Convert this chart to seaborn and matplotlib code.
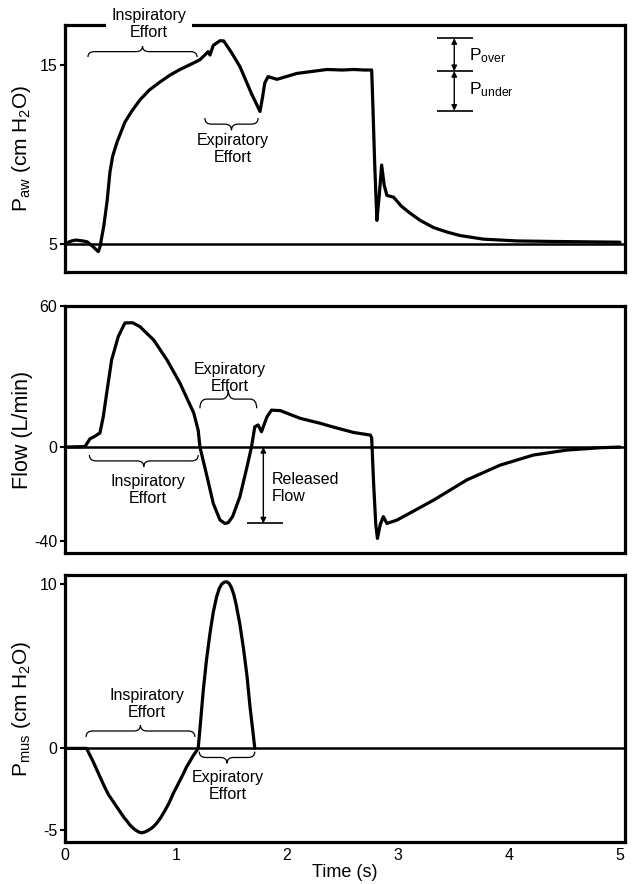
import matplotlib
matplotlib.use("Agg")
import matplotlib.pyplot as plt
import seaborn as sns
from matplotlib.path import Path
from matplotlib.patches import PathPatch

# ---- data ----
t_paw = [0.00, 0.06, 0.10, 0.16, 0.20, 0.25, 0.30, 0.315, 0.35, 0.38, 0.405, 0.43, 0.47,
         0.54, 0.60, 0.676, 0.76, 0.856, 0.95, 1.036, 1.12, 1.17, 1.216, 1.26, 1.29, 1.306,
         1.336, 1.396, 1.43, 1.50, 1.577, 1.68, 1.757, 1.78, 1.80, 1.83, 1.91, 2.09, 2.36,
         2.50, 2.60, 2.70, 2.763, 2.775, 2.79, 2.81, 2.83, 2.853, 2.875, 2.90, 2.96, 3.03,
         3.11, 3.20, 3.32, 3.44, 3.56, 3.77, 4.07, 4.40, 4.70, 5.00]
paw = [5.0, 5.15, 5.2, 5.15, 5.1, 4.85, 4.55, 4.8, 6.0, 7.4, 9.0, 9.9, 10.7,
       11.8, 12.4, 13.05, 13.6, 14.05, 14.45, 14.75, 15.0, 15.15, 15.3, 15.56, 15.75, 15.56,
       16.1, 16.36, 16.35, 15.7, 14.9, 13.4, 12.4, 13.2, 14.0, 14.35, 14.2, 14.53, 14.75,
       14.72, 14.75, 14.72, 14.72, 12.5, 9.5, 6.3, 7.6, 9.4, 8.3, 7.7, 7.6, 7.1,
       6.7, 6.3, 5.9, 5.65, 5.45, 5.25, 5.15, 5.12, 5.1, 5.08]

t_flow = [0.00, 0.18, 0.225, 0.27, 0.315, 0.345, 0.38, 0.42, 0.48, 0.54, 0.61, 0.676, 0.80,
          0.92, 1.036, 1.16, 1.20, 1.216, 1.28, 1.336, 1.396, 1.44, 1.47, 1.51, 1.576, 1.64,
          1.68, 1.71, 1.74, 1.77, 1.82, 1.86, 1.94, 2.12, 2.30, 2.41, 2.60, 2.75, 2.763,
          2.78, 2.80, 2.815, 2.84, 2.868, 2.90, 2.99, 3.15, 3.32, 3.62, 3.92, 4.22, 4.52,
          4.82, 5.00]
flow = [0.0, 0.2, 3.5, 4.6, 6.0, 12.9, 24.3, 37.0, 47.0, 52.8, 52.9, 51.2, 45.5,
        37.0, 27.2, 14.5, 7.2, 0.0, -12.6, -24.0, -31.0, -32.5, -32.2, -29.6, -21.1, -8.4,
        0.0, 8.6, 9.4, 6.5, 12.9, 15.7, 15.5, 12.2, 10.1, 8.6, 6.2, 5.1, 4.0,
        -15.0, -33.0, -38.9, -33.0, -29.6, -32.5, -31.1, -27.0, -22.6, -14.0, -7.7, -3.4, -1.3,
        -0.3, 0.0]

t_pmus = [0.00, 0.195, 0.22, 0.25, 0.28, 0.315, 0.35, 0.39, 0.43, 0.466, 0.50, 0.53, 0.56,
          0.586, 0.615, 0.64, 0.665, 0.69, 0.72, 0.75, 0.79, 0.826, 0.865, 0.90, 0.94, 0.976,
          1.01, 1.04, 1.07, 1.096, 1.125, 1.15, 1.175, 1.20, 1.22, 1.246, 1.275, 1.306, 1.336,
          1.366, 1.39, 1.41, 1.435, 1.457, 1.48, 1.50, 1.52, 1.54, 1.575, 1.61, 1.64, 1.667,
          1.69, 1.71]
pmus = [0.0, 0.0, -0.35, -0.75, -1.2, -1.73, -2.25, -2.8, -3.2, -3.56, -3.9, -4.2, -4.45,
        -4.68, -4.87, -5.0, -5.1, -5.15, -5.1, -5.0, -4.82, -4.57, -4.2, -3.8, -3.3, -2.74,
        -2.3, -1.9, -1.5, -1.12, -0.8, -0.5, -0.25, 0.0, 1.5, 3.55, 5.4, 7.0, 8.3,
        9.24, 9.75, 10.0, 10.14, 10.16, 10.05, 9.8, 9.4, 8.84, 7.6, 6.0, 4.4, 2.54,
        1.2, 0.0]

x_ticks = [0, 1, 2, 3, 4, 5]
paw_ticks = [5, 15]
flow_ticks = [-40, 0, 60]
pmus_ticks = [-5, 0, 10]
p_levels = [16.5, 14.66, 12.44]   # peak / plateau / trough markers

sns.set_theme(style="ticks")
plt.rcParams['font.family'] = ['Liberation Sans', 'DejaVu Sans']
plt.rcParams['mathtext.fontset'] = 'custom'
plt.rcParams['mathtext.rm'] = 'Liberation Sans'
plt.rcParams['mathtext.it'] = 'Liberation Sans:italic'
plt.rcParams['axes.unicode_minus'] = False
plt.rcParams['text.color'] = 'black'
plt.rcParams['axes.labelcolor'] = 'black'

ann_fs = 11.5


def brace(ax, x0, x1, y, h, r=0.06):
    # curly brace, ends at y, tip at y + h
    xm = (x0 + x1) / 2
    yh = y + h / 2
    verts = [(x0, y), (x0, yh), (x0 + r, yh), (xm - r, yh), (xm, yh), (xm, y + h),
             (xm, yh), (xm + r, yh), (x1 - r, yh), (x1, yh), (x1, y)]
    codes = [Path.MOVETO, Path.CURVE3, Path.CURVE3, Path.LINETO, Path.CURVE3, Path.CURVE3,
             Path.CURVE3, Path.CURVE3, Path.LINETO, Path.CURVE3, Path.CURVE3]
    ax.add_patch(PathPatch(Path(verts, codes), fill=False, lw=0.9, edgecolor='black'))


def dbl_arrow(ax, x, y0, y1):
    ax.annotate('', xy=(x, y0), xytext=(x, y1),
                arrowprops=dict(arrowstyle='<|-|>', lw=1.0, color='black',
                                shrinkA=0, shrinkB=0, mutation_scale=8))


fig = plt.figure(figsize=(6.32, 8.84), dpi=100)
left, width = 0.1028, 0.8861
ax1 = fig.add_axes([left, 0.6923, width, 0.2794])
ax2 = fig.add_axes([left, 0.3744, width, 0.2794])
ax3 = fig.add_axes([left, 0.0475, width, 0.3020])

for ax in (ax1, ax2, ax3):
    for sp in ax.spines.values():
        sp.set_visible(True)
        sp.set_linewidth(2.3)
        sp.set_color('black')
    ax.set_xlim(0, 5.045)
    ax.set_xticks(x_ticks)
    ax.tick_params(axis='y', length=3.5, width=1.5, pad=2, labelsize=11.5, colors='black')
    ax.tick_params(axis='x', length=0, pad=4, labelsize=11.5, colors='black')
    ax.yaxis.set_label_coords(-0.057, 0.5)

line_kw = dict(color='black', linewidth=2.3, estimator=None, sort=False,
               solid_joinstyle='round', solid_capstyle='round')

# ---- P_aw ----
ax1.axhline(5, color='black', lw=1.8, zorder=1)
sns.lineplot(x=t_paw, y=paw, ax=ax1, **line_kw)
ax1.set_ylim(3.41, 17.24)
ax1.set_yticks(paw_ticks)
ax1.tick_params(axis='x', labelbottom=False)
ax1.set_ylabel(r'P$_{\mathrm{aw}}$ (cm H$_{\mathrm{2}}$O)', fontsize=15)
ax1.text(0.757, 17.3, 'Inspiratory\nEffort', ha='center', va='center', fontsize=ann_fs,
         zorder=5, clip_on=False,
         bbox=dict(boxstyle='square,pad=0.35', facecolor='white', edgecolor='none'))
brace(ax1, 0.207, 1.19, 15.45, 0.6)
brace(ax1, 1.26, 1.74, 12.03, -0.68)
ax1.text(1.51, 10.3, 'Expiratory\nEffort', ha='center', va='center', fontsize=ann_fs)
ax1.hlines(p_levels, 3.35, 3.68, color='black', lw=1.2)
dbl_arrow(ax1, 3.507, p_levels[0], p_levels[1])
dbl_arrow(ax1, 3.507, p_levels[1], p_levels[2])
ax1.text(3.64, 15.55, r'P$_{\mathrm{over}}$', ha='left', va='center', fontsize=12.5)
ax1.text(3.64, 13.6, r'P$_{\mathrm{under}}$', ha='left', va='center', fontsize=12.5)

# ---- Flow ----
ax2.axhline(0, color='black', lw=1.8, zorder=1)
sns.lineplot(x=t_flow, y=flow, ax=ax2, **line_kw)
ax2.set_ylim(-45.1, 60)
ax2.set_yticks(flow_ticks)
ax2.tick_params(axis='x', labelbottom=False)
ax2.set_ylabel('Flow (L/min)', fontsize=15.5)
brace(ax2, 1.216, 1.727, 16.5, 7.8)
ax2.text(1.486, 29.5, 'Expiratory\nEffort', ha='center', va='center', fontsize=ann_fs)
brace(ax2, 0.22, 1.2, -3.4, -5.0)
ax2.text(0.75, -18.4, 'Inspiratory\nEffort', ha='center', va='center', fontsize=ann_fs)
dbl_arrow(ax2, 1.787, 0, -32.5)
ax2.hlines(-32.5, 1.64, 1.96, color='black', lw=1.2)
ax2.text(1.86, -17.5, 'Released\nFlow', ha='left', va='center', fontsize=ann_fs)

# ---- P_mus ----
ax3.axhline(0, color='black', lw=1.8, zorder=1)
sns.lineplot(x=t_pmus, y=pmus, ax=ax3, **line_kw)
ax3.set_ylim(-5.71, 10.57)
ax3.set_yticks(pmus_ticks)
ax3.set_ylabel(r'P$_{\mathrm{mus}}$ (cm H$_{\mathrm{2}}$O)', fontsize=15)
ax3.set_xlabel('Time (s)', fontsize=13, labelpad=1)
brace(ax3, 0.19, 1.17, 0.7, 0.72)
ax3.text(0.735, 2.7, 'Inspiratory\nEffort', ha='center', va='center', fontsize=ann_fs)
brace(ax3, 1.21, 1.71, -0.2, -0.71)
ax3.text(1.47, -2.3, 'Expiratory\nEffort', ha='center', va='center', fontsize=ann_fs)

fig.savefig('out.png', dpi=100, facecolor='white')
